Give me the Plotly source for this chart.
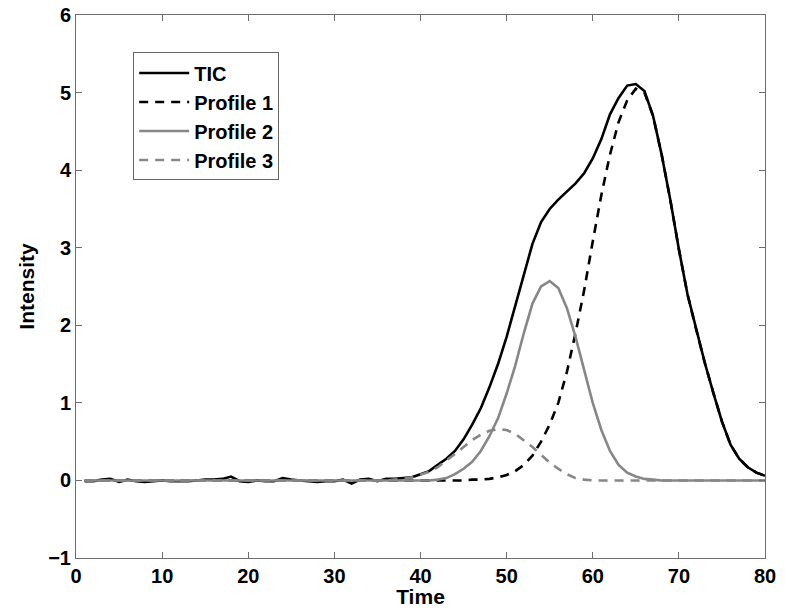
import plotly.graph_objects as go

time = list(range(1, 81))

tic = [
    -0.01, -0.01, 0.01, 0.02, -0.02, 0.01, -0.01, -0.02, -0.01, 0.00,
    -0.01, -0.01, -0.01, 0.00, 0.01, 0.01, 0.02, 0.05, -0.01, -0.02,
    0.00, -0.01, -0.01, 0.03, 0.01, 0.00, -0.01, -0.02, -0.01, -0.01,
    0.01, -0.04, 0.01, 0.02, -0.01, 0.02, 0.02, 0.03, 0.04, 0.08,
    0.12, 0.20, 0.28, 0.38, 0.53, 0.72, 0.93, 1.20, 1.50, 1.85,
    2.25, 2.68, 3.05, 3.33, 3.50, 3.62, 3.73, 3.83, 3.96, 4.15,
    4.40, 4.72, 4.93, 5.09, 5.11, 5.02, 4.70, 4.20, 3.62, 2.98,
    2.40, 1.95, 1.52, 1.13, 0.76, 0.46, 0.28, 0.17, 0.10, 0.06,
]

profile1 = [0.0] * 44 + [
    0.00, 0.01, 0.01, 0.02, 0.04, 0.07, 0.12, 0.20, 0.32, 0.50,
    0.72, 1.00, 1.40, 1.90, 2.45, 3.08, 3.68, 4.20, 4.62, 4.90,
    5.05, 5.00, 4.70, 4.20, 3.62, 2.98, 2.40, 1.95, 1.52, 1.13,
    0.76, 0.46, 0.28, 0.17, 0.10, 0.06,
]

profile2 = [0.0] * 41 + [
    0.01, 0.03, 0.08, 0.15, 0.24, 0.38, 0.57, 0.80, 1.12, 1.48,
    1.90, 2.28, 2.50, 2.57, 2.48, 2.22, 1.85, 1.42, 1.00, 0.65,
    0.38, 0.20, 0.10, 0.05, 0.02, 0.01,
] + [0.0] * 13

profile3 = [0.0] * 36 + [
    0.01, 0.02, 0.04, 0.07, 0.11, 0.17, 0.25, 0.34, 0.43, 0.52,
    0.59, 0.64, 0.66, 0.65, 0.60, 0.52, 0.43, 0.33, 0.23, 0.15,
    0.08, 0.03, 0.01,
] + [0.0] * 21

x_ticks = [0, 10, 20, 30, 40, 50, 60, 70, 80]
y_ticks = [-1, 0, 1, 2, 3, 4, 5, 6]

GRAY = "#878787"
FONT = "Liberation Sans, Arial, Helvetica, sans-serif"

fig = go.Figure()
fig.add_trace(go.Scatter(x=time, y=tic, mode="lines", name="TIC",
                         line=dict(color="black", width=2.6)))
fig.add_trace(go.Scatter(x=time, y=profile1, mode="lines", name="Profile 1",
                         line=dict(color="black", width=2.6, dash="9px,7px")))
fig.add_trace(go.Scatter(x=time, y=profile2, mode="lines", name="Profile 2",
                         line=dict(color=GRAY, width=2.6)))
fig.add_trace(go.Scatter(x=time, y=profile3, mode="lines", name="Profile 3",
                         line=dict(color=GRAY, width=2.6, dash="9px,7px")))

axis_common = dict(
    showgrid=False, zeroline=False, showline=True, linecolor="#6e6e6e",
    linewidth=1, mirror="ticks", ticks="inside", ticklen=6, tickwidth=1,
    tickcolor="#6e6e6e", automargin=False,
    tickfont=dict(family=FONT, size=20, color="black", weight="bold"),
)

fig.update_layout(
    width=788, height=608,
    margin=dict(l=76, r=23, t=15, b=50),
    paper_bgcolor="white", plot_bgcolor="white",
    font=dict(family=FONT, color="black"),
    xaxis=dict(range=[0, 80], tickvals=x_ticks,
               title=dict(text="Time", standoff=0,
                          font=dict(family=FONT, size=21, weight="bold")),
               **axis_common),
    yaxis=dict(range=[-1, 6], tickvals=y_ticks,
               ticktext=["\u22121", "0", "1", "2", "3", "4", "5", "6"],
               title=dict(text="Intensity", standoff=7,
                          font=dict(family=FONT, size=21, weight="bold")),
               **axis_common),
    legend=dict(x=0.083, y=0.931, xanchor="left", yanchor="top",
                bgcolor="white", bordercolor="#666", borderwidth=1,
                font=dict(family=FONT, size=20, weight="bold"),
                tracegroupgap=0, itemwidth=50),
    showlegend=True,
)

fig.write_html("out.html")
